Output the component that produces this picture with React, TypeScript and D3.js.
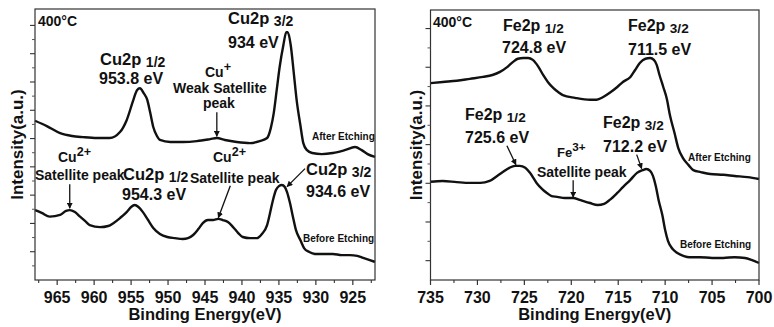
import React from "react";
import * as d3 from "d3";

// ---------- DATA ----------
// Cu 2p panel (binding energy eV, intensity a.u.)
const cuAfterE = [968.0, 966.4, 964.6, 963.0, 961.5, 959.6, 957.9, 956.5, 955.6, 954.7, 954.2, 953.8, 953.3, 952.8, 952.4, 952.0, 951.5, 951.1, 949.7, 948.0, 946.1, 944.3, 943.4, 942.3, 940.7, 938.9, 937.6, 936.6, 936.1, 935.7, 935.3, 934.9, 934.4, 934.0, 933.8, 933.4, 933.0, 932.6, 932.1, 931.7, 931.2, 930.5, 929.2, 927.7, 926.1, 924.7, 923.8, 923.0, 922.0];
const cuAfterI = [56.3, 54.4, 51.9, 50.9, 50.5, 50.2, 50.2, 52.3, 56.5, 63.6, 67.1, 67.8, 66.1, 63.6, 59.0, 54.1, 50.9, 49.5, 48.8, 48.8, 49.1, 49.8, 50.2, 49.5, 48.8, 48.4, 49.1, 50.2, 53.7, 59.0, 67.1, 75.3, 83.0, 87.6, 87.6, 83.0, 73.5, 63.6, 54.8, 48.4, 45.9, 44.9, 44.5, 44.9, 45.9, 47.0, 45.9, 44.5, 43.5];
const cuBeforeE = [968.0, 967.1, 966.0, 964.6, 963.8, 963.3, 962.6, 961.9, 961.2, 960.6, 959.2, 958.1, 957.4, 956.5, 955.6, 955.0, 954.5, 954.0, 953.4, 952.7, 952.0, 951.1, 950.1, 949.1, 948.0, 947.3, 946.6, 945.9, 945.3, 944.6, 943.9, 943.2, 942.6, 941.9, 941.2, 940.5, 939.9, 938.9, 938.0, 937.3, 936.6, 936.2, 935.8, 935.4, 935.0, 934.6, 934.2, 933.9, 933.5, 933.1, 932.7, 932.1, 931.6, 930.9, 930.1, 928.8, 927.7, 926.5, 925.4, 924.4, 923.6, 922.8, 922.0];
const cuBeforeI = [24.7, 23.7, 22.4, 23.0, 24.4, 24.7, 24.0, 22.4, 20.8, 19.4, 18.7, 19.1, 20.1, 21.9, 24.0, 25.8, 26.5, 25.8, 24.0, 21.2, 18.4, 16.3, 15.2, 14.8, 14.5, 14.8, 15.9, 18.0, 20.1, 21.2, 21.2, 21.6, 21.2, 20.5, 18.7, 16.6, 15.2, 14.8, 14.8, 16.3, 19.4, 23.7, 28.3, 31.8, 33.2, 33.6, 32.9, 31.1, 27.2, 22.3, 17.7, 14.1, 11.3, 9.9, 9.2, 9.2, 9.2, 8.8, 8.8, 8.5, 7.8, 7.1, 6.4];

// Fe 2p panel
const feAfterE = [735.0, 733.7, 732.2, 730.8, 729.4, 728.4, 727.6, 726.8, 726.2, 725.7, 725.1, 724.6, 724.1, 723.5, 723.0, 722.5, 721.9, 721.4, 720.9, 719.6, 718.0, 717.3, 716.6, 715.9, 715.1, 714.5, 713.7, 713.2, 712.7, 712.1, 711.6, 711.2, 710.9, 710.6, 710.2, 709.8, 709.5, 709.0, 708.6, 708.1, 707.5, 707.0, 706.2, 705.2, 703.8, 702.6, 701.2, 700.0];
const feAfterI = [50.9, 51.2, 51.5, 52.0, 52.5, 53.0, 53.8, 55.1, 56.4, 57.2, 57.4, 57.4, 56.9, 55.1, 53.0, 51.2, 49.6, 48.6, 47.8, 47.1, 46.6, 46.6, 47.3, 48.4, 49.9, 51.2, 52.5, 54.3, 56.1, 57.2, 57.4, 56.9, 55.6, 53.0, 49.9, 46.6, 42.7, 38.0, 34.1, 31.5, 29.7, 28.4, 27.9, 27.4, 27.2, 26.9, 26.6, 26.1];
const feBeforeE = [735.0, 733.7, 732.2, 730.8, 729.7, 728.7, 727.9, 727.3, 726.6, 726.0, 725.5, 724.9, 724.4, 723.7, 723.1, 722.6, 722.1, 721.5, 720.7, 719.8, 719.1, 718.0, 717.2, 716.5, 715.9, 715.1, 714.5, 713.7, 713.0, 712.4, 712.0, 711.6, 711.3, 711.0, 710.7, 710.3, 710.0, 709.7, 709.2, 708.7, 708.0, 707.4, 706.3, 705.0, 703.8, 702.6, 701.5, 700.8, 700.0];
const feBeforeI = [25.4, 25.6, 25.3, 25.1, 25.1, 25.6, 26.9, 27.9, 29.0, 29.5, 29.5, 29.0, 27.7, 25.1, 23.5, 22.5, 21.7, 21.5, 21.2, 21.2, 20.7, 19.9, 19.4, 19.7, 20.7, 22.5, 24.0, 25.9, 27.7, 28.4, 28.7, 28.2, 26.9, 24.3, 20.7, 16.8, 12.9, 10.1, 8.0, 7.0, 6.2, 5.9, 5.9, 5.7, 5.7, 5.9, 5.7, 5.2, 4.4];

// Axis ticks
const cuXMajor = [965, 960, 955, 950, 945, 940, 935, 930, 925];
const cuXMinor = [967.5, 962.5, 957.5, 952.5, 947.5, 942.5, 937.5, 932.5, 927.5, 922.5];
const feXMajor = [735, 730, 725, 720, 715, 710, 705, 700];
const feXMinor = [732.5, 727.5, 722.5, 717.5, 712.5, 707.5, 702.5];
const cuYMajor = [10, 20, 30, 40, 50, 60, 70, 80, 90];
const cuYMinor = [5, 15, 25, 35, 45, 55, 65, 75, 85];
const feYMajor = [5, 15, 25, 35, 45, 55, 65];
const feYMinor = [10, 20, 30, 40, 50, 60];

// Arrow tips (energy, intensity) and tail offsets in px
const cuArrows = [
  { e: 943.4, i: 50.8, dx: 0, dy: -24 },
  { e: 963.3, i: 25.4, dx: 0, dy: -24 },
  { e: 943.2, i: 22.0, dx: 12, dy: -32 },
  { e: 933.9, i: 33.0, dx: 18, dy: -18 },
];
const feArrows = [
  { e: 725.9, i: 29.8, dx: -9, dy: -19 },
  { e: 719.8, i: 21.4, dx: 0, dy: -17 },
  { e: 712.5, i: 28.8, dx: -5, dy: -14 },
];

type Part = { t: string; kind?: "sub" | "sup" };
type Label = { x: number; y: number; size: number; parts: Part[] };

const cuLabels: Label[] = [
  { x: 38, y: 26, size: 14, parts: [{ t: "400°C" }] },
  { x: 100, y: 65, size: 16.5, parts: [{ t: "Cu2p " }, { t: "1/2", kind: "sub" }] },
  { x: 99, y: 84, size: 16, parts: [{ t: "953.8 eV" }] },
  { x: 228, y: 24, size: 16.5, parts: [{ t: "Cu2p " }, { t: "3/2", kind: "sub" }] },
  { x: 228, y: 48, size: 16, parts: [{ t: "934 eV" }] },
  { x: 205, y: 77, size: 14, parts: [{ t: "Cu" }, { t: "+", kind: "sup" }] },
  { x: 173, y: 93, size: 14, parts: [{ t: "Weak Satellite" }] },
  { x: 203, y: 108, size: 14, parts: [{ t: "peak" }] },
  { x: 312, y: 140, size: 10, parts: [{ t: "After Etching" }] },
  { x: 58, y: 162, size: 14, parts: [{ t: "Cu" }, { t: "2+", kind: "sup" }] },
  { x: 35, y: 180, size: 14, parts: [{ t: "Satellite peak" }] },
  { x: 123, y: 180, size: 16.5, parts: [{ t: "Cu2p " }, { t: "1/2", kind: "sub" }] },
  { x: 122, y: 200, size: 16, parts: [{ t: "954.3 eV" }] },
  { x: 213, y: 162, size: 14, parts: [{ t: "Cu" }, { t: "2+", kind: "sup" }] },
  { x: 190, y: 183, size: 14, parts: [{ t: "Satellite peak" }] },
  { x: 306, y: 175, size: 16.5, parts: [{ t: "Cu2p " }, { t: "3/2", kind: "sub" }] },
  { x: 306, y: 197, size: 16, parts: [{ t: "934.6 eV" }] },
  { x: 303, y: 242, size: 10, parts: [{ t: "Before Etching" }] },
];

const feLabels: Label[] = [
  { x: 433, y: 27, size: 14, parts: [{ t: "400°C" }] },
  { x: 503, y: 31, size: 16, parts: [{ t: "Fe2p " }, { t: "1/2", kind: "sub" }] },
  { x: 502, y: 53, size: 16, parts: [{ t: "724.8 eV" }] },
  { x: 628, y: 31, size: 16, parts: [{ t: "Fe2p " }, { t: "3/2", kind: "sub" }] },
  { x: 628, y: 55, size: 16, parts: [{ t: "711.5 eV" }] },
  { x: 465, y: 120, size: 16, parts: [{ t: "Fe2p " }, { t: "1/2", kind: "sub" }] },
  { x: 465, y: 143, size: 16, parts: [{ t: "725.6 eV" }] },
  { x: 557, y: 157, size: 13, parts: [{ t: "Fe" }, { t: "3+", kind: "sup" }] },
  { x: 603, y: 128, size: 16, parts: [{ t: "Fe2p " }, { t: "3/2", kind: "sub" }] },
  { x: 603, y: 152, size: 16, parts: [{ t: "712.2 eV" }] },
  { x: 688, y: 161, size: 10, parts: [{ t: "After Etching" }] },
  { x: 537, y: 177, size: 14, parts: [{ t: "Satellite peak" }] },
  { x: 680, y: 248, size: 10, parts: [{ t: "Before Etching" }] },
];

const FONT = "'Liberation Sans', Arial, Helvetica, sans-serif";
const INK = "#111";

type PanelProps = {
  left: number;
  right: number;
  top: number;
  bottom: number;
  xDomain: [number, number];
  yMax: number;
  series: { e: number[]; i: number[] }[];
  xMajor: number[];
  xMinor: number[];
  yMajor: number[];
  yMinor: number[];
  arrows: { e: number; i: number; dx: number; dy: number }[];
  labels: Label[];
  yLabelX: number;
};

function Panel(p: PanelProps) {
  const x = d3.scaleLinear().domain(p.xDomain).range([p.left, p.right]);
  const y = d3.scaleLinear().domain([0, p.yMax]).range([p.bottom, p.top]);
  const line = d3
    .line<[number, number]>()
    .x((d) => x(d[0]))
    .y((d) => y(d[1]))
    .curve(d3.curveMonotoneX);
  const cx = (p.left + p.right) / 2;
  const cy = (p.top + p.bottom) / 2;
  return (
    <g>
      {p.series.map((s, k) => (
        <path
          key={k}
          d={line(s.e.map((e, j) => [e, s.i[j]] as [number, number])) || ""}
          fill="none"
          stroke={INK}
          strokeWidth={2.4}
          strokeLinejoin="round"
        />
      ))}
      <rect
        x={p.left}
        y={p.top}
        width={p.right - p.left}
        height={p.bottom - p.top}
        fill="none"
        stroke="#333"
        strokeWidth={1.2}
      />
      {p.xMajor.map((v) => (
        <g key={"xm" + v}>
          <line x1={x(v)} x2={x(v)} y1={p.bottom} y2={p.bottom + 5} stroke="#333" strokeWidth={1.2} />
          <text
            x={x(v)}
            y={p.bottom + 23}
            textAnchor="middle"
            fontFamily={FONT}
            fontWeight="bold"
            fontSize={16}
            fill={INK}
          >
            {v}
          </text>
        </g>
      ))}
      {p.xMinor.map((v) => (
        <line key={"xn" + v} x1={x(v)} x2={x(v)} y1={p.bottom} y2={p.bottom + 3} stroke="#333" strokeWidth={1.1} />
      ))}
      {p.yMajor.map((v) => (
        <line key={"ym" + v} x1={p.left - 5} x2={p.left} y1={y(v)} y2={y(v)} stroke="#333" strokeWidth={1.1} />
      ))}
      {p.yMinor.map((v) => (
        <line key={"yn" + v} x1={p.left - 3} x2={p.left} y1={y(v)} y2={y(v)} stroke="#555" strokeWidth={1} />
      ))}
      <text
        x={cx}
        y={p.bottom + 40}
        textAnchor="middle"
        fontFamily={FONT}
        fontWeight="bold"
        fontSize={16.5}
        fill={INK}
      >
        Binding Energy(eV)
      </text>
      <text
        transform={`translate(${p.yLabelX},${cy}) rotate(-90)`}
        textAnchor="middle"
        fontFamily={FONT}
        fontWeight="bold"
        fontSize={17}
        fill={INK}
      >
        Intensity(a.u.)
      </text>
      {p.arrows.map((a, k) => {
        const tx = x(a.e);
        const ty = y(a.i);
        return (
          <line
            key={"a" + k}
            x1={tx + a.dx}
            y1={ty + a.dy}
            x2={tx}
            y2={ty}
            stroke={INK}
            strokeWidth={1.3}
            markerEnd="url(#arrowHead)"
          />
        );
      })}
      {p.labels.map((l, k) => (
        <text key={"l" + k} x={l.x} y={l.y} fontFamily={FONT} fontWeight="bold" fontSize={l.size} fill={INK}>
          {l.parts.map((pt, j) => {
            if (pt.kind === "sub")
              return (
                <tspan key={j} fontSize={l.size * 0.85} dy={2}>
                  {pt.t}
                </tspan>
              );
            if (pt.kind === "sup")
              return (
                <tspan key={j} fontSize={l.size * 0.9} dy={-6}>
                  {pt.t}
                </tspan>
              );
            return <tspan key={j}>{pt.t}</tspan>;
          })}
        </text>
      ))}
    </g>
  );
}

export default function App() {
  return (
    <svg
      width={774}
      height={327}
      viewBox="0 0 774 327"
      style={{ position: "absolute", left: 0, top: 0, background: "#fff" }}
    >
      <defs>
        <marker
          id="arrowHead"
          viewBox="0 0 10 10"
          refX={9}
          refY={5}
          markerWidth={6}
          markerHeight={6}
          markerUnits="userSpaceOnUse"
          orient="auto"
        >
          <path d="M0,0 L10,5 L0,10 z" fill={INK} />
        </marker>
      </defs>
      <rect x={0} y={0} width={774} height={327} fill="#fff" />
      <Panel
        left={35}
        right={375}
        top={9}
        bottom={280}
        xDomain={[968, 922]}
        yMax={95.8}
        series={[
          { e: cuAfterE, i: cuAfterI },
          { e: cuBeforeE, i: cuBeforeI },
        ]}
        xMajor={cuXMajor}
        xMinor={cuXMinor}
        yMajor={cuYMajor}
        yMinor={cuYMinor}
        arrows={cuArrows}
        labels={cuLabels}
        yLabelX={22.5}
      />
      <Panel
        left={430.5}
        right={759}
        top={10}
        bottom={280}
        xDomain={[735, 700]}
        yMax={69.8}
        series={[
          { e: feAfterE, i: feAfterI },
          { e: feBeforeE, i: feBeforeI },
        ]}
        xMajor={feXMajor}
        xMinor={feXMinor}
        yMajor={feYMajor}
        yMinor={feYMinor}
        arrows={feArrows}
        labels={feLabels}
        yLabelX={421.5}
      />
    </svg>
  );
}
